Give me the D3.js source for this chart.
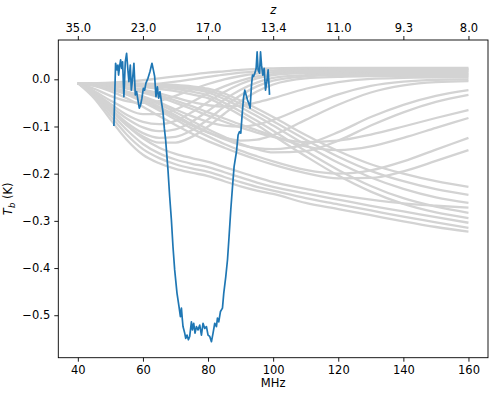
<!DOCTYPE html>
<html>
<head>
<meta charset="utf-8">
<script src="https://cdn.jsdelivr.net/npm/d3@7"></script>
<style>
    body { margin: 0; background: #fff; }
    svg { display: block; }
    .tick text { font-family: "DejaVu Sans", sans-serif; font-size: 11.5px; fill: #000; }
    .tick line { stroke: #000; }
    .label { font-family: "DejaVu Sans", sans-serif; font-size: 11.5px; fill: #000; }
</style>
</head>
<body>
<svg id="chart" width="500" height="397"></svg>
<script>
// frequency grid shared by all the model curves (MHz)
var freqGrid = [40, 45, 50, 55, 60, 65, 70, 75, 80, 85, 90, 95, 100, 110, 120, 130, 140, 150, 160];

// model curves, brightness temperature (K) at each freqGrid point
var modelF1 = [-0.008,-0.008,-0.007,-0.005,-0.002,0.002,0.006,0.010,0.014,0.017,0.020,0.022,0.023,0.024,0.024,0.024,0.024,0.024,0.024];
var modelF2 = [-0.008,-0.010,-0.012,-0.013,-0.012,-0.009,-0.005,0.000,0.005,0.010,0.014,0.017,0.019,0.021,0.022,0.022,0.022,0.022,0.022];
var modelE1 = [-0.008,-0.020,-0.035,-0.046,-0.050,-0.046,-0.035,-0.022,-0.010,0.000,0.007,0.012,0.015,0.018,0.019,0.020,0.020,0.020,0.020];
var modelE2 = [-0.008,-0.025,-0.045,-0.063,-0.074,-0.074,-0.064,-0.048,-0.030,-0.015,-0.003,0.006,0.011,0.015,0.017,0.018,0.018,0.018,0.018];
var modelE3 = [-0.008,-0.028,-0.052,-0.075,-0.090,-0.095,-0.088,-0.070,-0.048,-0.027,-0.010,0.002,0.009,0.013,0.014,0.015,0.015,0.015,0.015];
var modelE4 = [-0.008,-0.030,-0.057,-0.083,-0.102,-0.110,-0.106,-0.090,-0.067,-0.043,-0.022,-0.007,0.003,0.009,0.011,0.012,0.012,0.012,0.012];
var modelE5 = [-0.008,-0.032,-0.062,-0.092,-0.114,-0.124,-0.122,-0.108,-0.085,-0.058,-0.034,-0.015,-0.003,0.006,0.009,0.010,0.010,0.010,0.010];
var modelE6 = [-0.008,-0.033,-0.065,-0.097,-0.121,-0.134,-0.134,-0.122,-0.100,-0.073,-0.047,-0.026,-0.011,0.002,0.005,0.007,0.007,0.007,0.007];
var modelM1 = [-0.008,-0.010,-0.013,-0.017,-0.022,-0.030,-0.039,-0.048,-0.055,-0.058,-0.056,-0.049,-0.040,-0.020,-0.006,0.001,0.003,0.004,0.004];
var modelM2 = [-0.008,-0.012,-0.018,-0.026,-0.036,-0.049,-0.064,-0.078,-0.090,-0.098,-0.100,-0.096,-0.086,-0.058,-0.032,-0.014,-0.005,-0.001,0.000];
var modelM3 = [-0.008,-0.013,-0.021,-0.032,-0.045,-0.062,-0.080,-0.098,-0.113,-0.124,-0.130,-0.128,-0.118,-0.086,-0.054,-0.028,-0.013,-0.006,-0.004];
var modelM4 = [-0.008,-0.012,-0.019,-0.029,-0.042,-0.058,-0.076,-0.095,-0.112,-0.127,-0.139,-0.146,-0.148,-0.138,-0.112,-0.080,-0.054,-0.035,-0.023];
var modelM5 = [-0.008,-0.011,-0.017,-0.026,-0.038,-0.053,-0.070,-0.088,-0.106,-0.122,-0.137,-0.148,-0.155,-0.152,-0.130,-0.098,-0.070,-0.048,-0.033];
var modelL1 = [-0.008,-0.010,-0.014,-0.020,-0.028,-0.038,-0.050,-0.063,-0.077,-0.090,-0.102,-0.113,-0.122,-0.133,-0.130,-0.117,-0.100,-0.082,-0.065];
var modelL2 = [-0.008,-0.010,-0.013,-0.018,-0.025,-0.034,-0.045,-0.057,-0.070,-0.083,-0.096,-0.108,-0.120,-0.142,-0.150,-0.142,-0.124,-0.103,-0.082];
var modelL3 = [-0.008,-0.012,-0.020,-0.032,-0.048,-0.066,-0.085,-0.104,-0.121,-0.137,-0.151,-0.163,-0.174,-0.192,-0.200,-0.193,-0.174,-0.149,-0.124];
var modelL4 = [-0.008,-0.014,-0.025,-0.040,-0.058,-0.078,-0.097,-0.115,-0.131,-0.145,-0.158,-0.170,-0.181,-0.199,-0.210,-0.209,-0.195,-0.173,-0.150];
var modelD1 = [-0.008,-0.008,-0.008,-0.008,-0.009,-0.010,-0.012,-0.015,-0.020,-0.030,-0.045,-0.062,-0.080,-0.118,-0.152,-0.180,-0.200,-0.216,-0.228];
var modelD2 = [-0.008,-0.008,-0.008,-0.009,-0.010,-0.011,-0.014,-0.018,-0.024,-0.036,-0.052,-0.070,-0.089,-0.128,-0.164,-0.194,-0.216,-0.233,-0.245];
var modelD3 = [-0.008,-0.008,-0.009,-0.010,-0.011,-0.013,-0.017,-0.021,-0.028,-0.042,-0.059,-0.078,-0.098,-0.139,-0.177,-0.208,-0.232,-0.250,-0.262];
var modelD4 = [-0.008,-0.009,-0.010,-0.011,-0.013,-0.016,-0.020,-0.026,-0.034,-0.050,-0.068,-0.088,-0.109,-0.152,-0.192,-0.226,-0.252,-0.270,-0.283];
var modelD5 = [-0.008,-0.009,-0.011,-0.013,-0.016,-0.020,-0.025,-0.032,-0.040,-0.057,-0.076,-0.097,-0.119,-0.163,-0.204,-0.238,-0.264,-0.282,-0.294];
var modelS1 = [-0.008,-0.030,-0.063,-0.097,-0.125,-0.145,-0.158,-0.167,-0.175,-0.186,-0.197,-0.208,-0.218,-0.232,-0.245,-0.255,-0.263,-0.268,-0.272];
var modelS2 = [-0.008,-0.033,-0.070,-0.107,-0.137,-0.157,-0.170,-0.179,-0.186,-0.197,-0.208,-0.219,-0.228,-0.242,-0.255,-0.268,-0.280,-0.292,-0.304];
var modelS3 = [-0.008,-0.036,-0.077,-0.117,-0.148,-0.167,-0.180,-0.189,-0.196,-0.207,-0.218,-0.228,-0.236,-0.252,-0.265,-0.278,-0.291,-0.303,-0.315];
var modelS4 = [-0.008,-0.040,-0.085,-0.128,-0.160,-0.178,-0.190,-0.198,-0.205,-0.216,-0.227,-0.236,-0.243,-0.262,-0.275,-0.288,-0.301,-0.313,-0.323];

var models = [modelF1, modelF2, modelE1, modelE2, modelE3, modelE4, modelE5, modelE6,
    modelM1, modelM2, modelM3, modelM4, modelM5, modelL1, modelL2, modelL3, modelL4,
    modelD1, modelD2, modelD3, modelD4, modelD5, modelS1, modelS2, modelS3, modelS4];

// measured profile
var measFreq = [51.08,51.60,52.00,52.31,52.52,52.83,53.14,53.45,53.75,54.15,54.58,54.98,55.38,55.69,56.12,56.43,56.83,57.23,57.66,58.06,
    58.46,58.89,59.29,59.69,60.12,60.52,60.92,61.54,62.15,62.77,63.20,63.60,64.00,64.43,64.83,65.23,65.66,66.15,66.58,66.98,
    67.69,68.22,68.74,69.23,69.75,70.46,71.08,71.51,71.82,72.12,72.31,72.83,73.14,73.54,73.97,74.37,74.89,75.20,75.60,76.00,
    76.43,76.92,77.45,77.97,78.46,78.98,79.51,80.00,80.52,81.05,81.54,82.06,82.58,82.89,83.29,83.82,84.43,84.83,85.45,85.97,
    86.46,86.98,87.51,88.00,88.74,89.23,89.66,90.06,90.46,90.89,91.29,91.69,92.12,92.52,92.92,93.35,93.66,93.97,94.37,94.77,
    95.08,95.38,95.82,96.12,96.43,96.83,97.23,97.66,98.06,98.46,98.89];
var measTemp = [-0.099,0.034,0.020,0.030,0.009,0.027,0.041,0.023,0.037,-0.037,0.037,0.055,0.020,-0.005,0.030,-0.023,0.002,0.034,-0.033,-0.026,
    -0.044,-0.061,-0.054,-0.040,-0.019,-0.023,-0.008,0.002,0.016,0.034,0.020,0.006,-0.037,-0.016,-0.040,-0.026,-0.047,-0.069,-0.104,-0.129,
    -0.192,-0.249,-0.298,-0.355,-0.404,-0.453,-0.482,-0.503,-0.485,-0.510,-0.524,-0.538,-0.549,-0.542,-0.552,-0.545,-0.514,-0.531,-0.517,-0.538,
    -0.524,-0.531,-0.521,-0.542,-0.517,-0.528,-0.524,-0.542,-0.545,-0.556,-0.538,-0.517,-0.524,-0.506,-0.514,-0.492,-0.485,-0.453,-0.418,-0.383,
    -0.333,-0.277,-0.228,-0.185,-0.153,-0.118,-0.111,-0.114,-0.076,-0.040,-0.023,-0.033,-0.044,-0.051,-0.061,-0.012,0.009,0.006,0.013,0.023,
    0.058,0.020,0.013,0.058,0.030,0.009,0.023,-0.023,-0.005,0.020,-0.033];

// axis ticks
var freqTicks = [40, 60, 80, 100, 120, 140, 160];
var zLabels = ["35.0", "23.0", "17.0", "13.4", "11.0", "9.3", "8.0"];
var tempTicks = [0.0, -0.1, -0.2, -0.3, -0.4, -0.5];

function drawChart() {
    var svg = d3.select("#chart");
    var left = 58.3, right = 488, top = 40, bottom = 357.7;

    var xScale = d3.scaleLinear().domain([34, 166]).range([left, right]);
    var yScale = d3.scaleLinear().domain([-0.59, 0.0833]).range([bottom, top]);

    var line = d3.line()
        .x(function (d) { return xScale(d[0]); })
        .y(function (d) { return yScale(d[1]); })
        .curve(d3.curveMonotoneX);

    var plot = svg.append("g");

    plot.selectAll("path.model")
        .data(models)
        .enter()
        .append("path")
        .attr("class", "model")
        .attr("d", function (m) {
            return line(freqGrid.map(function (f, i) { return [f, m[i]]; }));
        })
        .attr("fill", "none")
        .attr("stroke", "#d3d3d3")
        .attr("stroke-width", 2.3);

    var meas = measFreq.map(function (f, i) { return [f, measTemp[i]]; });
    plot.append("path")
        .attr("d", d3.line()
            .x(function (d) { return xScale(d[0]); })
            .y(function (d) { return yScale(d[1]); })(meas))
        .attr("fill", "none")
        .attr("stroke", "#1f77b4")
        .attr("stroke-width", 1.7)
        .attr("stroke-linejoin", "round");

    // axes
    var xAxis = d3.axisBottom(xScale).tickValues(freqTicks).tickSize(4).tickPadding(4)
        .tickFormat(d3.format("d"));
    svg.append("g").attr("transform", "translate(0," + bottom + ")").call(xAxis)
        .call(function (g) { g.select(".domain").remove(); });

    var zAxis = d3.axisTop(xScale).tickValues(freqTicks).tickSize(4).tickPadding(4)
        .tickFormat(function (d, i) { return zLabels[i]; });
    svg.append("g").attr("transform", "translate(0," + top + ")").call(zAxis)
        .call(function (g) { g.select(".domain").remove(); });

    var yAxis = d3.axisLeft(yScale).tickValues(tempTicks).tickSize(4).tickPadding(4)
        .tickFormat(d3.format(".1f"));
    svg.append("g").attr("transform", "translate(" + left + ",0)").call(yAxis)
        .call(function (g) { g.select(".domain").remove(); });

    svg.selectAll(".tick line").attr("stroke-width", 0.9);

    svg.append("rect")
        .attr("x", left).attr("y", top)
        .attr("width", right - left).attr("height", bottom - top)
        .attr("fill", "none").attr("stroke", "#000").attr("stroke-width", 0.9);

    // labels
    svg.append("text").attr("class", "label")
        .attr("x", (left + right) / 2).attr("y", 387)
        .attr("text-anchor", "middle").text("MHz");

    svg.append("text").attr("class", "label")
        .attr("x", (left + right) / 2).attr("y", 14)
        .attr("text-anchor", "middle").attr("font-style", "italic").text("z");

    var yl = svg.append("text").attr("class", "label")
        .attr("transform", "translate(12," + ((top + bottom) / 2) + ") rotate(-90)")
        .attr("text-anchor", "middle");
    yl.append("tspan").attr("font-style", "italic").text("T");
    yl.append("tspan").attr("font-style", "italic").attr("font-size", "8.5px").attr("dy", 2.5).text("b");
    yl.append("tspan").attr("dy", -2.5).text(" (K)");
}

drawChart();
</script>
</body>
</html>
